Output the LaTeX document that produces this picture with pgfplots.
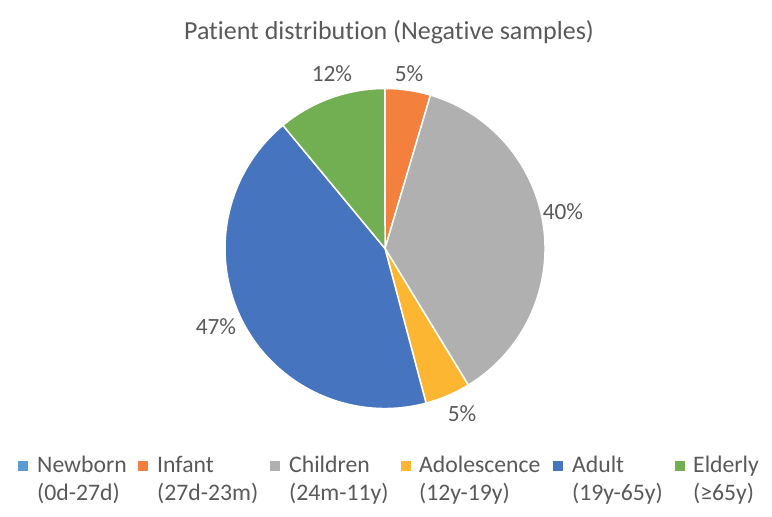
\documentclass[border=0pt]{standalone}
\usepackage{pgfplots}
\pgfplotsset{compat=1.18}
\usepackage{fontspec}
\setmainfont[Ligatures={TeX,NoCommon}]{Carlito}
\definecolor{txt}{HTML}{595959}
\definecolor{cNewborn}{HTML}{5B9BD5}
\definecolor{cInfant}{HTML}{F4803E}
\definecolor{cChildren}{HTML}{B0B0B0}
\definecolor{cAdol}{HTML}{FDB631}
\definecolor{cAdult}{HTML}{4674BF}
\definecolor{cElderly}{HTML}{72AE52}
% data values (as labelled)
\def\vNewborn{0}
\def\vInfant{5}
\def\vChildren{40}
\def\vAdol{5}
\def\vAdult{47}
\def\vElderly{12}
\pgfmathsetmacro\vTotal{\vNewborn+\vInfant+\vChildren+\vAdol+\vAdult+\vElderly}
\pgfmathsetmacro\aZ{90-\vNewborn/\vTotal*360}
\pgfmathsetmacro\aA{\aZ-\vInfant/\vTotal*360}
\pgfmathsetmacro\aB{\aA-\vChildren/\vTotal*360}
\pgfmathsetmacro\aC{\aB-\vAdol/\vTotal*360}
\pgfmathsetmacro\aD{\aC-\vAdult/\vTotal*360}
\pgfmathsetmacro\aE{\aD-\vElderly/\vTotal*360}
\newcommand\lab{\fontsize{23.3bp}{27bp}\selectfont}
\newcommand\leg{\fontsize{23.7bp}{27bp}\selectfont}
\begin{document}
\begin{tikzpicture}
\useasboundingbox (0,0) rectangle (772bp,517bp);
\begin{axis}[at={(0,0)}, anchor=south west, width=772bp, height=517bp, scale only axis,
  xmin=0, xmax=772, ymin=0, ymax=517, hide axis, clip=false]
\def\cx{385}\def\cy{268.5}\def\R{160bp}
\fill[cInfant, draw=white, line width=1.5bp] (axis cs:\cx,\cy) -- ++(\aZ:\R) arc[start angle=\aZ, end angle=\aA, radius=\R] -- cycle;
\fill[cChildren, draw=white, line width=1.5bp] (axis cs:\cx,\cy) -- ++(\aA:\R) arc[start angle=\aA, end angle=\aB, radius=\R] -- cycle;
\fill[cAdol, draw=white, line width=1.5bp] (axis cs:\cx,\cy) -- ++(\aB:\R) arc[start angle=\aB, end angle=\aC, radius=\R] -- cycle;
\fill[cAdult, draw=white, line width=1.5bp] (axis cs:\cx,\cy) -- ++(\aC:\R) arc[start angle=\aC, end angle=\aD, radius=\R] -- cycle;
\fill[cElderly, draw=white, line width=1.5bp] (axis cs:\cx,\cy) -- ++(\aD:\R) arc[start angle=\aD, end angle=\aE, radius=\R] -- cycle;
% data labels
\node[txt, anchor=base, inner sep=0] at (axis cs:409,435) {\lab 5\%};
\node[txt, anchor=base, inner sep=0] at (axis cs:563,297) {\lab 40\%};
\node[txt, anchor=base, inner sep=0] at (axis cs:462,95) {\lab 5\%};
\node[txt, anchor=base, inner sep=0] at (axis cs:216,182) {\lab 47\%};
\node[txt, anchor=base, inner sep=0] at (axis cs:332,435) {\lab 12\%};
% title
\node[txt, anchor=base, inner sep=0] at (axis cs:389,477) {\fontsize{26bp}{30bp}\selectfont Patient distribution (Negative samples)};
% legend
\fill[cNewborn] (axis cs:18,46) rectangle (axis cs:28,56);
\node[txt, anchor=base west, inner sep=0] at (axis cs:37,44) {\leg Newborn};
\node[txt, anchor=base west, inner sep=0] at (axis cs:37,17) {\leg (0d-27d)};
\fill[cInfant] (axis cs:138,46) rectangle (axis cs:148,56);
\node[txt, anchor=base west, inner sep=0] at (axis cs:157,44) {\leg Infant};
\node[txt, anchor=base west, inner sep=0] at (axis cs:157,17) {\leg (27d-23m)};
\fill[cChildren] (axis cs:270,46) rectangle (axis cs:280,56);
\node[txt, anchor=base west, inner sep=0] at (axis cs:289,44) {\leg Children};
\node[txt, anchor=base west, inner sep=0] at (axis cs:289,17) {\leg (24m-11y)};
\fill[cAdol] (axis cs:401,46) rectangle (axis cs:411,56);
\node[txt, anchor=base west, inner sep=0] at (axis cs:419,44) {\leg Adolescence};
\node[txt, anchor=base west, inner sep=0] at (axis cs:419,17) {\leg (12y-19y)};
\fill[cAdult] (axis cs:553,46) rectangle (axis cs:563,56);
\node[txt, anchor=base west, inner sep=0] at (axis cs:572,44) {\leg Adult};
\node[txt, anchor=base west, inner sep=0] at (axis cs:572,17) {\leg (19y-65y)};
\fill[cElderly] (axis cs:675,46) rectangle (axis cs:685,56);
\node[txt, anchor=base west, inner sep=0] at (axis cs:693,44) {\leg Elderly};
\node[txt, anchor=base west, inner sep=0] at (axis cs:693,17) {\leg (≥65y)};
\end{axis}
\end{tikzpicture}
\end{document}
